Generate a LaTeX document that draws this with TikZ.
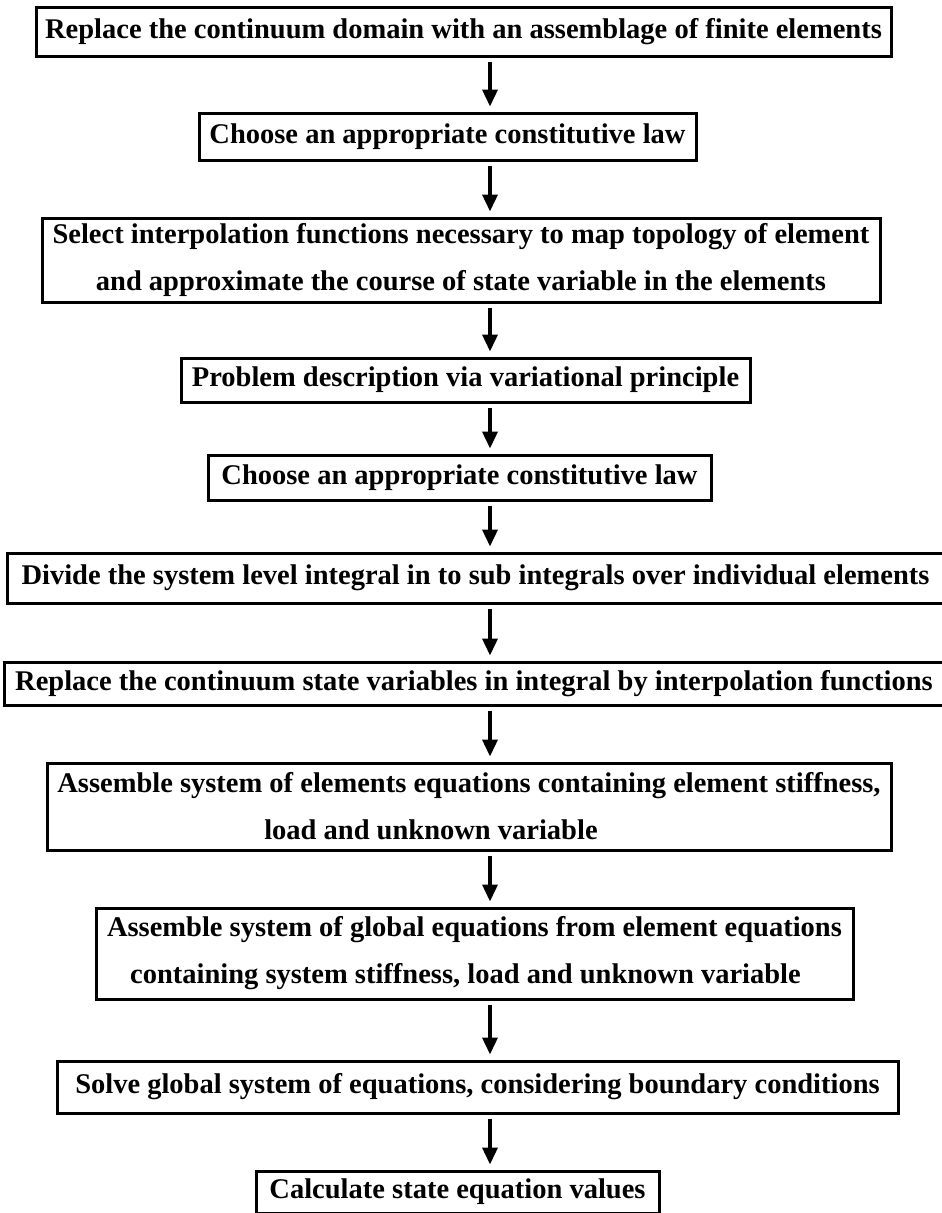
\documentclass[tikz,border=0pt]{standalone}
\usepackage{fontspec}
\setmainfont{Liberation Serif}
\usetikzlibrary{arrows.meta}
\tikzset{
  stepbox/.style={draw=black, line width=3pt, rectangle, inner sep=0pt, fill=white,
    font=\fontsize{28.5}{47}\selectfont\bfseries, align=center},
  flowarrow/.style={line width=3.6pt, -{Triangle[width=15pt,length=17pt]},
    shorten <=4pt, shorten >=5pt}
}
\begin{document}
\begin{tikzpicture}[x=1pt,y=1pt]
\useasboundingbox (0,0) rectangle (942,-1213);
\coordinate (ax) at (490,0);
\node[stepbox, minimum width=855pt, minimum height=49pt] (b1) at (463.5,-31.5)
  {Replace the continuum domain with an assemblage of finite elements};
\node[stepbox, minimum width=497pt, minimum height=47pt] (b2) at (447.5,-136.5)
  {Choose an appropriate constitutive law};
\node[stepbox, minimum width=838pt, minimum height=84pt] (b3) at (461,-260)
  {Select interpolation functions necessary to map topology of element\\and approximate the course of state variable in the elements};
\node[stepbox, minimum width=569pt, minimum height=44pt] (b4) at (465.5,-380)
  {Problem description via variational principle};
\node[stepbox, minimum width=503pt, minimum height=45pt] (b5) at (459.5,-477.5)
  {Choose an appropriate constitutive law};
\node[stepbox, minimum width=937pt, minimum height=50pt] (b6) at (475.5,-578)
  {Divide the system level integral in to sub integrals over individual elements};
\node[stepbox, minimum width=940pt, minimum height=43pt] (b7) at (474,-683.5)
  {Replace the continuum state variables in integral by interpolation functions};
\node[stepbox, minimum width=844pt, minimum height=87pt] (b8) at (469,-806.5)
  {Assemble system of elements equations containing element stiffness,\\load and unknown variable\hspace*{76pt}};
\node[stepbox, minimum width=757pt, minimum height=91pt] (b9) at (474.5,-953.5)
  {Assemble system of global equations from element equations\\containing system stiffness, load and unknown variable\hspace*{18pt}};
\node[stepbox, minimum width=841pt, minimum height=52pt] (b10) at (477.5,-1087)
  {Solve global system of equations, considering boundary conditions};
\node[stepbox, minimum width=403pt, minimum height=42pt] (b11) at (457.5,-1192)
  {Calculate state equation values};
\draw[flowarrow] (b1.south -| ax) -- (b2.north -| ax);
\draw[flowarrow] (b2.south -| ax) -- (b3.north -| ax);
\draw[flowarrow] (b3.south -| ax) -- (b4.north -| ax);
\draw[flowarrow] (b4.south -| ax) -- (b5.north -| ax);
\draw[flowarrow] (b5.south -| ax) -- (b6.north -| ax);
\draw[flowarrow] (b6.south -| ax) -- (b7.north -| ax);
\draw[flowarrow] (b7.south -| ax) -- (b8.north -| ax);
\draw[flowarrow] (b8.south -| ax) -- (b9.north -| ax);
\draw[flowarrow] (b9.south -| ax) -- (b10.north -| ax);
\draw[flowarrow] (b10.south -| ax) -- (b11.north -| ax);
\end{tikzpicture}
\end{document}
